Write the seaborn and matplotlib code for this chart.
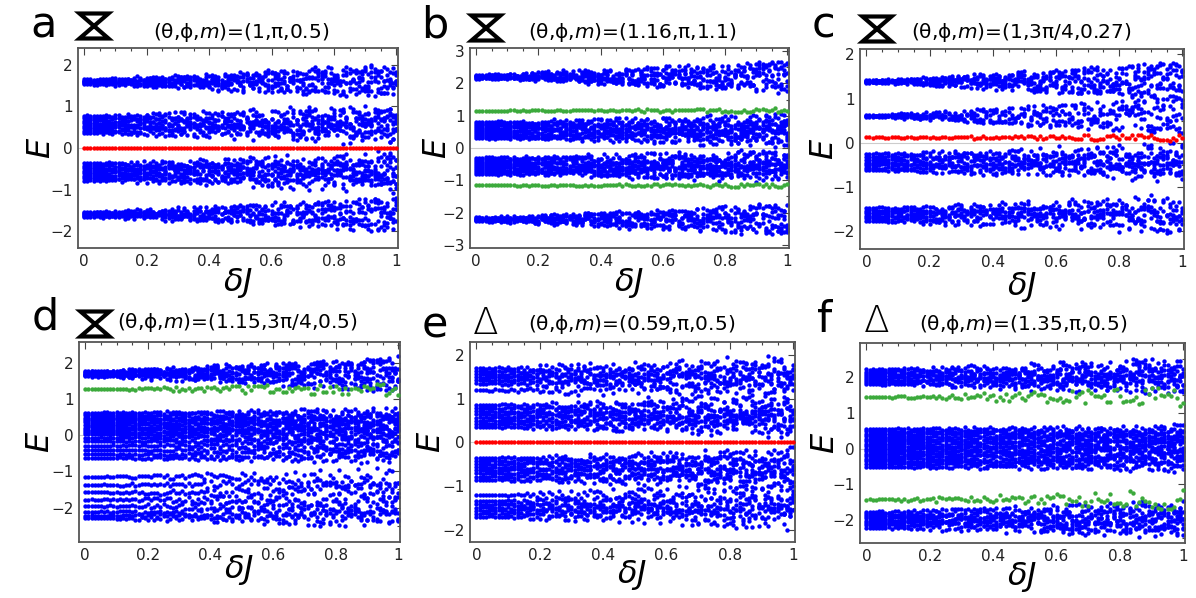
import numpy as np
import pandas as pd
import matplotlib
matplotlib.use("Agg")
import matplotlib.pyplot as plt
import seaborn as sns
from matplotlib.ticker import MultipleLocator, FuncFormatter
from matplotlib.patches import Polygon

# ---------------- data ----------------
dJ = np.round(np.arange(101) / 100.0, 2)          # disorder strength samples

# blue bulk bands: energy levels at dJ = 0, and band broadening at dJ = 1
a_bands = [[1.53, 1.56, 1.58, 1.60, 1.62, 1.65],
           [0.36, 0.42, 0.48, 0.54, 0.60, 0.66, 0.72, 0.78],
           [-0.36, -0.42, -0.48, -0.54, -0.60, -0.66, -0.72, -0.78],
           [-1.53, -1.56, -1.58, -1.60, -1.62, -1.65]]
a_spread = [0.40, 0.32, 0.32, 0.40]
b_bands = [[2.15, 2.18, 2.20, 2.22, 2.24, 2.27],
           [0.30, 0.36, 0.43, 0.49, 0.56, 0.62, 0.69, 0.75, 0.81],
           [-0.30, -0.36, -0.43, -0.49, -0.56, -0.62, -0.69, -0.75, -0.81],
           [-2.15, -2.18, -2.20, -2.22, -2.24, -2.27]]
b_spread = [0.48, 0.30, 0.30, 0.48]
c_bands = [[1.36, 1.37, 1.38, 1.39, 1.40, 1.41],
           [0.59, 0.60, 0.61, 0.62],
           [-0.25, -0.32, -0.38, -0.45, -0.50, -0.57, -0.62],
           [-1.47, -1.53, -1.59, -1.65, -1.71, -1.77]]
c_spread = [0.43, 0.43, 0.30, 0.35]
d_bands = [[1.62, 1.65, 1.67, 1.70, 1.72, 1.75, 1.77],
           [0.62, 0.55, 0.48, 0.42, 0.35, 0.28, 0.21, 0.15, 0.08, 0.02,
            -0.07, -0.17, -0.29, -0.41, -0.53, -0.63],
           [-1.15, -1.37, -1.58, -1.78, -1.96, -2.12, -2.22, -2.30]]
d_spread = [0.45, 0.15, 0.27]
e_bands = [[1.20, 1.35, 1.42, 1.49, 1.56, 1.63, 1.70],
           [0.35, 0.42, 0.50, 0.57, 0.64, 0.71, 0.79, 0.86],
           [-0.35, -0.42, -0.50, -0.57, -0.64, -0.71, -0.79, -0.86],
           [-1.20, -1.35, -1.42, -1.49, -1.56, -1.63, -1.70]]
e_spread = [0.33, 0.25, 0.25, 0.33]
f_bands = [[1.80, 1.86, 1.92, 1.98, 2.04, 2.10, 2.16, 2.22],
           [0.55, 0.48, 0.41, 0.34, 0.27, 0.20, 0.13, 0.06,
            -0.01, -0.08, -0.15, -0.22, -0.29, -0.36, -0.43, -0.52],
           [-1.78, -1.84, -1.90, -1.96, -2.02, -2.08, -2.14, -2.22]]
f_spread = [0.36, 0.15, 0.36]

# in-gap states (red = zero/mid-gap mode, green = edge-like mode)
a_special, a_sp_spread, a_sp_kind = [0.0], 0.0, "red"
b_special, b_sp_spread, b_sp_kind = [1.16, -1.16], 0.07, "green"
c_special, c_sp_spread, c_sp_kind = [0.12], 0.08, "red"
d_special, d_sp_spread, d_sp_kind = [1.27], 0.20, "green"
e_special, e_sp_spread, e_sp_kind = [0.0], 0.0, "red"
f_special, f_sp_spread, f_sp_kind = [1.45, -1.43], 0.28, "green"

# typed table of disorder fluctuations (fractions of the broadening)
fluct = [0.12, -0.85, 0.47, -0.31, 0.93, -0.06, -0.64, 0.28, 0.71, -0.97,
         0.39, -0.18, 0.84, -0.52, 0.03, 0.58, -0.77, 0.21, -0.43, 0.96,
         -0.25, 0.66, -0.89, 0.09, 0.34, -0.61, 0.79, -0.12, -0.36, 0.51,
         -0.94, 0.17, 0.88, -0.48, 0.25, -0.72, 0.62, -0.03, -0.57, 0.43,
         0.99, -0.21, -0.81, 0.31, 0.07, -0.68, 0.74, -0.39, 0.55, -0.14,
         0.82, -0.91, 0.19, -0.46, 0.37, -0.27, 0.69, -0.79, 0.14, 0.92, -0.55]

letters = ["a", "b", "c", "d", "e", "f"]
symbols = ["hourglass", "hourglass", "hourglass", "hourglass", "Δ", "Δ"]
params = [r"(θ,ϕ,$m$)=(1,π,0.5)", r"(θ,ϕ,$m$)=(1.16,π,1.1)",
          r"(θ,ϕ,$m$)=(1,3π/4,0.27)", r"(θ,ϕ,$m$)=(1.15,3π/4,0.5)",
          r"(θ,ϕ,$m$)=(0.59,π,0.5)", r"(θ,ϕ,$m$)=(1.35,π,0.5)"]
yticks = [[-2, -1, 0, 1, 2], [-3, -2, -1, 0, 1, 2, 3], [-2, -1, 0, 1, 2],
          [-2, -1, 0, 1, 2], [-2, -1, 0, 1, 2], [-2, -1, 0, 1, 2]]
ylims = [(-2.4, 2.4), (-3.1, 3.1), (-2.4, 2.12), (-2.95, 2.57), (-2.28, 2.3), (-2.65, 2.96)]

all_bands = [a_bands, b_bands, c_bands, d_bands, e_bands, f_bands]
all_spreads = [a_spread, b_spread, c_spread, d_spread, e_spread, f_spread]
all_special = [(a_special, a_sp_spread, a_sp_kind), (b_special, b_sp_spread, b_sp_kind),
               (c_special, c_sp_spread, c_sp_kind), (d_special, d_sp_spread, d_sp_kind),
               (e_special, e_sp_spread, e_sp_kind), (f_special, f_sp_spread, f_sp_kind)]

# ---------------- layout (pixels of the 1196x598 canvas) ----------------
W, H = 1196, 598
axes_px = [(78, 398, 48, 248), (470, 789, 48, 248), (860, 1184, 49, 249),
           (79, 400, 342, 542), (470, 795, 342, 542), (860, 1185, 343, 543)]
letter_px = [(30, 37), (421, 37), (812, 37), (32, 330), (422, 337), (817, 332)]
symbol_px = [(94, 26), (486, 28), (877, 29), (95, 324), (486, 323), (877, 322)]
title_px = [(153, 32), (528, 33), (911, 32), (117, 323), (528, 325), (919, 325)]
ylab_x = [-0.115, -0.103, -0.111, -0.121, -0.117, -0.105]
xlab_y = [-0.175, -0.175, -0.19, -0.14, -0.165, -0.17]

colors = {"blue": "#0000ff", "red": "#ff0000", "green": "#3caa3c"}

sns.set_theme(style="white")
plt.rcParams["font.family"] = ["DejaVu Sans", "Noto Sans"]
plt.rcParams["mathtext.fontset"] = "dejavusans"
plt.rcParams["axes.unicode_minus"] = True
plt.rcParams["text.color"] = "black"
plt.rcParams["axes.labelcolor"] = "black"

fig = plt.figure(figsize=(W / 100, H / 100), dpi=100)
nf = len(fluct)


def draw_hourglass(cx, cy):
    # the hourglass glyph (U+29D6) exists in no installed font: outline shape
    hw, hh = 14.5, 12.5
    pts = [(cx - hw, cy - hh), (cx + hw, cy - hh),
           (cx - hw, cy + hh), (cx + hw, cy + hh)]
    poly = Polygon([(x / W, (H - y) / H) for x, y in pts], closed=True,
                   fill=False, edgecolor="black", linewidth=3.0,
                   joinstyle="miter", transform=fig.transFigure)
    fig.add_artist(poly)


def fl(i, k, p):
    return fluct[(i * 23 + k * 37 + i * i * 3 + (i * k) % 17 * 5 + p * 11) % nf]


for p in range(6):
    l, r, t, b = axes_px[p]
    ax = fig.add_axes([l / W, (H - b) / H, (r - l) / W, (b - t) / H])
    rows = []
    k = 0
    for band, spr in zip(all_bands[p], all_spreads[p]):
        for lev in band:
            for i, x in enumerate(dJ):
                rows.append((x, lev + spr * x * fl(i, k, p), "blue"))
            k += 1
    sp_levels, sp_spread, sp_kind = all_special[p]
    for j, lev in enumerate(sp_levels):
        for i, x in enumerate(dJ):
            rows.append((x, lev + sp_spread * x * fl(i, j + 40, p + 3), sp_kind))
    df = pd.DataFrame(rows, columns=["dJ", "E", "kind"])

    ax.axhline(0, color="#cccccc", lw=0.8, zorder=0)
    sns.scatterplot(data=df[df.kind == "blue"], x="dJ", y="E", color=colors["blue"],
                    s=10, linewidth=0, ax=ax, legend=False, zorder=2)
    sub = df[df.kind != "blue"]
    sns.scatterplot(data=sub, x="dJ", y="E", color=colors[sp_kind],
                    s=10, linewidth=0, ax=ax, legend=False, zorder=3)

    ax.set_xlim(-0.02, 1.005)
    ax.set_ylim(*ylims[p])
    ax.set_xticks([0, 0.2, 0.4, 0.6, 0.8, 1.0])
    ax.xaxis.set_major_formatter(FuncFormatter(lambda v, pos: "%g" % round(v, 2)))
    ax.xaxis.set_minor_locator(MultipleLocator(0.05))
    ax.set_yticks(yticks[p])
    ax.yaxis.set_minor_locator(MultipleLocator(0.5))
    ax.tick_params(which="both", direction="in", top=True, right=True,
                   color="#444444", width=0.8, labelsize=11, pad=4, labelcolor="#222222")
    ax.tick_params(which="major", length=5)
    ax.tick_params(which="minor", length=2.5)
    for s in ax.spines.values():
        s.set_color("#555555")
        s.set_linewidth(1.3)

    ax.set_xlabel(r"$\delta J$", fontsize=23)
    ax.set_ylabel(r"$E$", fontsize=23)
    ax.xaxis.label.set_verticalalignment("center")
    ax.yaxis.label.set_verticalalignment("center")
    ax.xaxis.set_label_coords(0.5, xlab_y[p])
    ax.yaxis.set_label_coords(ylab_x[p], 0.5)

    lx, ly = letter_px[p]
    fig.text(lx / W, (H - ly) / H, letters[p], fontsize=31, ha="left", va="baseline")
    sx, sy = symbol_px[p]
    if symbols[p] == "hourglass":
        draw_hourglass(sx, sy)
    else:
        fig.text(sx / W, (H - sy) / H, symbols[p], fontsize=27, ha="center", va="center",
                 fontweight="light")
    tx, ty = title_px[p]
    fig.text(tx / W, (H - ty) / H, params[p], fontsize=14.5, ha="left", va="center")

fig.savefig("out.png", dpi=100)
